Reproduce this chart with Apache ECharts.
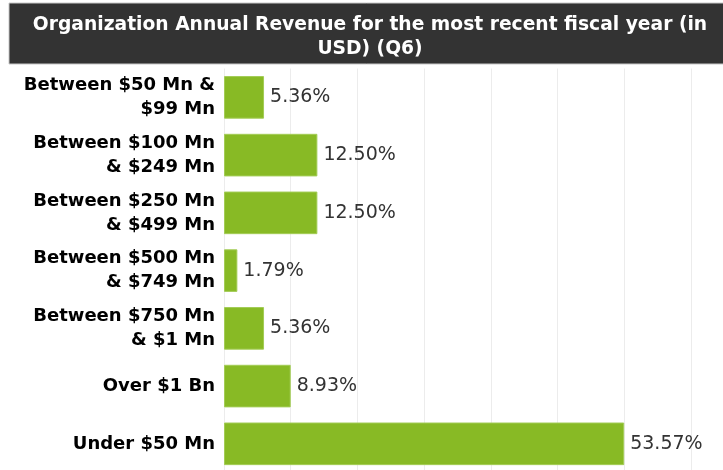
<!DOCTYPE html>
<html>
<head>
<meta charset="utf-8">
<script src="https://cdn.jsdelivr.net/npm/echarts@6/dist/echarts.min.js"></script>
<style>
    html, body {margin: 0; padding: 0; background: #fff;}
    #chart {width: 723px; height: 470px;}
</style>
</head>
<body>
<div id="chart"></div>
<script>
var titleText = 'Organization Annual Revenue for the most recent fiscal year (in\nUSD) (Q6)';

var categories = [
    'Between $50 Mn &\n$99 Mn',
    'Between $100 Mn\n& $249 Mn',
    'Between $250 Mn\n& $499 Mn',
    'Between $500 Mn\n& $749 Mn',
    'Between $750 Mn\n& $1 Mn',
    'Over $1 Bn',
    'Under $50 Mn'
];

var shares = [5.36, 12.50, 12.50, 1.79, 5.36, 8.93, 53.57];

// grid lines every 5 of 56 answers
var step = 500 / 56;

var myChart = echarts.init(document.getElementById('chart'));

var option = {
    animation: false,
    backgroundColor: '#fff',
    graphic: [
        {
            type: 'rect',
            z: 0,
            shape: {x: 9, y: 3, width: 720, height: 61},
            style: {fill: '#333333', stroke: '#c8c8c8', lineWidth: 1}
        }
    ],
    title: {
        text: titleText,
        left: 365,
        top: 8,
        textAlign: 'center',
        textStyle: {
            color: '#fff',
            fontFamily: '"DejaVu Sans", sans-serif',
            fontWeight: 'bold',
            fontSize: 18.7,
            lineHeight: 24
        },
        z: 5
    },
    grid: {
        left: 224,
        top: 68.5,
        width: 8 * 66.7,
        height: 404.2,
        outerBoundsMode: 'none'
    },
    xAxis: {
        type: 'value',
        min: 0,
        max: 8 * step,
        interval: step,
        axisLabel: {show: false},
        axisLine: {show: false},
        axisTick: {show: false},
        splitLine: {lineStyle: {color: '#ececec', width: 1}}
    },
    yAxis: {
        type: 'category',
        inverse: true,
        data: categories,
        axisLine: {show: false},
        axisTick: {show: false},
        axisLabel: {
            margin: 9,
            color: '#000',
            fontFamily: '"DejaVu Sans", sans-serif',
            fontWeight: 'bold',
            fontSize: 18,
            lineHeight: 24,
            padding: [3, 0, 0, 0],
            align: 'right'
        }
    },
    series: [
        {
            type: 'bar',
            data: shares,
            barWidth: 42.6,
            itemStyle: {color: '#88ba25', borderColor: '#a3cc55', borderWidth: 1},
            label: {
                show: true,
                position: 'right',
                distance: 6,
                color: '#333',
                fontFamily: '"DejaVu Sans", sans-serif',
                fontSize: 19,
                padding: [2, 0, 0, 0],
                formatter: function (p) {
                    return p.value.toFixed(2) + '%';
                }
            }
        }
    ]
};

myChart.setOption(option);
</script>
</body>
</html>
